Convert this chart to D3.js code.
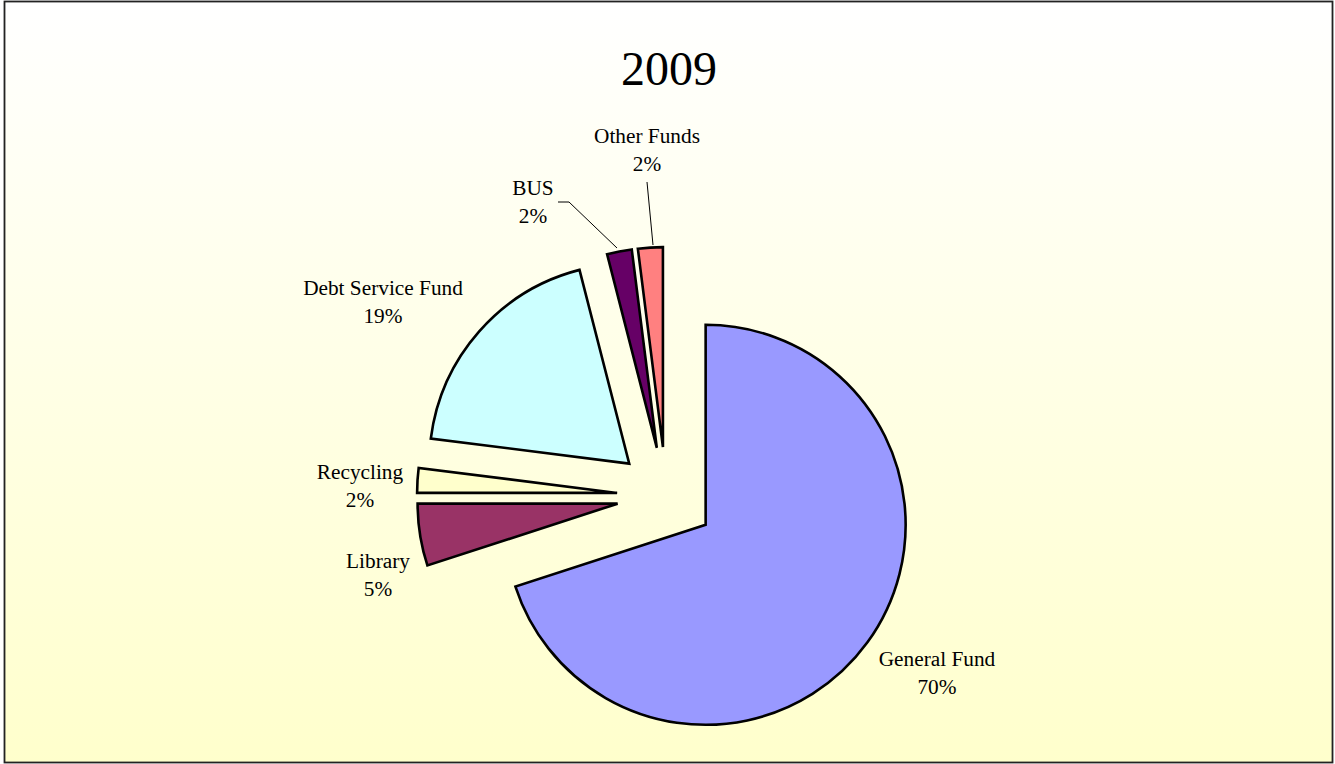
<!DOCTYPE html>
<html>
<head>
<meta charset="utf-8">
<script src="https://cdn.jsdelivr.net/npm/d3@7"></script>
<style>
  html, body { margin: 0; padding: 0; background: #ffffff; }
  svg { display: block; }
  text { font-family: "Liberation Serif", "Times New Roman", serif; fill: #000; }
</style>
</head>
<body>
<svg id="chart" width="1335" height="764"></svg>
<script>
// Fund shares for 2009 (percent)
const categories = ["General Fund", "Library", "Recycling", "Debt Service Fund", "BUS", "Other Funds"];
const values = [70, 5, 2, 19, 2, 2];
const colors = ["#9999FF", "#993366", "#FFFFCC", "#CCFFFF", "#660066", "#FF8080"];
const title = "2009";

// Label anchor points (centre x, first-line baseline y)
const labelPos = [
  [937, 666], [378, 568], [360, 479], [383, 295], [533, 195], [647, 143]
];

const W = 1335, H = 764;
const cx = 666, cy = 496, R = 200, explode = 49;

const svg = d3.select("#chart");

// Background panel with soft vertical gradient
const defs = svg.append("defs");
const grad = defs.append("linearGradient")
  .attr("id", "bg").attr("x1", 0).attr("y1", 0).attr("x2", 0).attr("y2", 1);
grad.append("stop").attr("offset", "0%").attr("stop-color", "#FFFFFF");
grad.append("stop").attr("offset", "100%").attr("stop-color", "#FFFFCC");

svg.append("rect")
  .attr("x", 4.5).attr("y", 1.5).attr("width", 1328).attr("height", 761)
  .attr("fill", "url(#bg)").attr("stroke", "#222").attr("stroke-width", 1.8);

svg.append("text")
  .attr("x", 669).attr("y", 85)
  .attr("text-anchor", "middle")
  .attr("font-size", 48)
  .text(title);

const data = categories.map((c, i) => ({ name: c, value: values[i], color: colors[i], label: labelPos[i] }));

const pie = d3.pie().value(d => d.value).sort(null);
const arcs = pie(data);
const arc = d3.arc().innerRadius(0).outerRadius(R);

const g = svg.append("g").attr("transform", `translate(${cx},${cy})`);

// Every slice pulled out along its bisector
g.selectAll("path.slice")
  .data(arcs)
  .join("path")
  .attr("class", "slice")
  .attr("d", arc)
  .attr("fill", d => d.data.color)
  .attr("stroke", "#000")
  .attr("stroke-width", 2.6)
  .attr("stroke-linejoin", "miter")
  .attr("transform", d => {
    const m = (d.startAngle + d.endAngle) / 2;
    return `translate(${explode * Math.sin(m)},${-explode * Math.cos(m)})`;
  });

// Leader lines for the two narrow top slices
const leaders = [
  [[558, 202], [569, 202], [617, 248]],
  [[647, 182], [653, 245]]
];
svg.selectAll("path.leader")
  .data(leaders)
  .join("path")
  .attr("class", "leader")
  .attr("d", d3.line())
  .attr("fill", "none")
  .attr("stroke", "#000")
  .attr("stroke-width", 1);

// Category name and percentage labels
const fmt = d3.format(".0%");
const total = d3.sum(values);
const lab = svg.selectAll("text.lbl")
  .data(data)
  .join("text")
  .attr("class", "lbl")
  .attr("text-anchor", "middle")
  .attr("font-size", 21.3);
lab.append("tspan")
  .attr("x", d => d.label[0]).attr("y", d => d.label[1])
  .text(d => d.name);
lab.append("tspan")
  .attr("x", d => d.label[0]).attr("y", d => d.label[1] + 27.5)
  .text(d => fmt(d.value / total));
</script>
</body>
</html>
